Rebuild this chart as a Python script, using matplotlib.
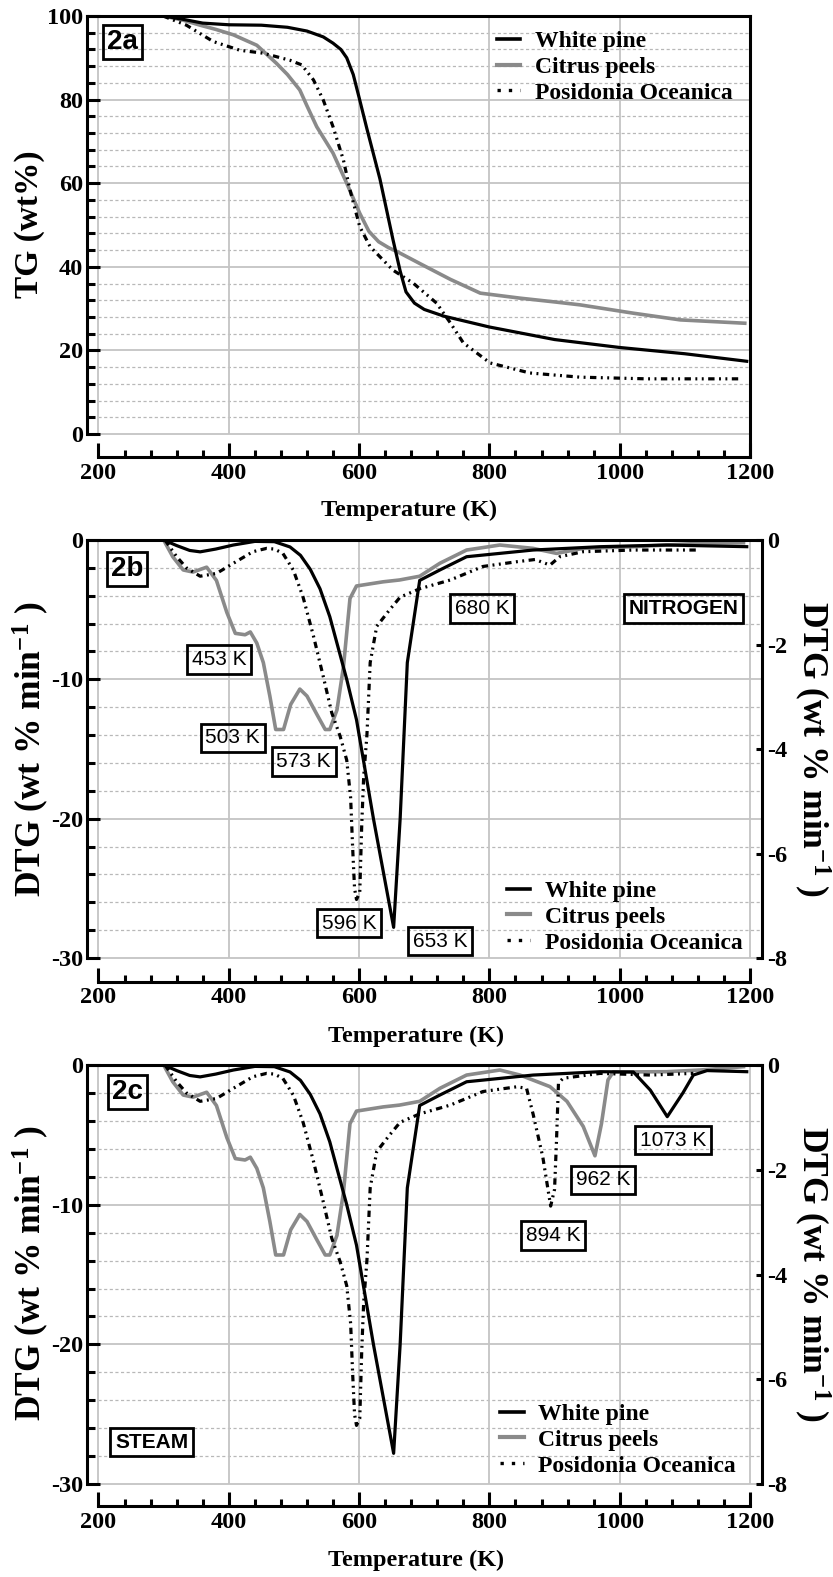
import matplotlib
matplotlib.use("Agg")
import matplotlib.pyplot as plt
from matplotlib.ticker import FixedLocator
from matplotlib.lines import Line2D

plt.rcParams["font.family"] = ["Liberation Serif", "DejaVu Serif"]
plt.rcParams["font.weight"] = "bold"
plt.rcParams["axes.unicode_minus"] = False
plt.rcParams["mathtext.fontset"] = "custom"
plt.rcParams["mathtext.rm"] = "Liberation Serif:bold"
plt.rcParams["mathtext.bf"] = "Liberation Serif:bold"
plt.rcParams["mathtext.default"] = "bf"

# ---------------- data ----------------
series_names = ["White pine", "Citrus peels", "Posidonia Oceanica"]

# TG curves: temperature (K) and residual mass (wt%)
tg_pine_T = [300, 330, 360, 400, 450, 490, 520, 545, 560, 572, 581, 591, 600, 612, 632, 652,
             663, 672, 685, 700, 730, 800, 900, 1000, 1100, 1195]
tg_pine_W = [100, 99.2, 98.3, 97.9, 97.8, 97.3, 96.4, 95.0, 93.5, 92.0, 90.0, 86.0, 80.5, 73.0,
             61.0, 46.5, 39.0, 34.0, 31.3, 29.8, 28.2, 25.6, 22.6, 20.7, 19.2, 17.4]
tg_citrus_T = [300, 330, 356, 380, 407, 443, 473, 490, 509, 520, 535, 560, 581, 601, 615, 630,
               645, 660, 693, 740, 786, 847, 900, 939, 1021, 1093, 1192]
tg_citrus_W = [100, 99.0, 97.8, 96.8, 95.5, 93.0, 88.7, 86.0, 82.3, 78.5, 73.5, 67.2, 60.0, 52.8,
               48.5, 46.0, 44.6, 43.5, 40.8, 37.0, 33.7, 32.5, 31.6, 30.9, 28.9, 27.3, 26.5]
tg_posid_T = [299, 335, 376, 417, 453, 494, 512, 530, 545, 560, 576, 586, 601, 617, 632, 652,
              683, 719, 740, 760, 801, 862, 939, 1041, 1182]
tg_posid_W = [100, 97.8, 93.9, 91.8, 91.1, 89.4, 88.3, 84.7, 79.9, 73.5, 65.5, 58.4, 49.6, 44.8,
              42.4, 39.2, 36.1, 31.3, 26.6, 21.8, 17.0, 14.6, 13.6, 13.2, 13.2]

# DTG curves under nitrogen: temperature (K) and rate (wt% / min)
n2_pine_T = [300, 320, 340, 356, 380, 407, 440, 470, 494, 510, 525, 540, 555, 581, 596, 622,
             653, 663, 674, 693, 724, 765, 816, 867, 919, 970, 1072, 1195]
n2_pine_D = [0, -0.4, -0.75, -0.85, -0.65, -0.36, -0.1, -0.12, -0.5, -1.1, -2.1, -3.5, -5.5,
             -10.0, -12.9, -20.0, -27.8, -20.0, -8.8, -2.9, -2.15, -1.2, -0.96, -0.72, -0.6,
             -0.48, -0.36, -0.48]
n2_citrus_T = [300, 314, 330, 345, 366, 381, 397, 410, 425, 433, 443, 453, 463, 472, 484, 495,
               509, 520, 535, 548, 555, 566, 576, 586, 596, 637, 662, 693, 724, 765, 816, 867,
               903, 944, 1021, 1123, 1190]
n2_citrus_D = [0, -1.2, -2.15, -2.3, -1.95, -2.9, -5.2, -6.7, -6.8, -6.6, -7.4, -8.8, -11.2,
               -13.6, -13.6, -11.8, -10.7, -11.2, -12.5, -13.6, -13.6, -12.2, -9.1, -4.2, -3.3,
               -3.0, -2.87, -2.6, -1.67, -0.72, -0.36, -0.6, -0.96, -0.6, -0.48, -0.24, -0.2]
n2_posid_T = [302, 320, 335, 356, 381, 407, 437, 458, 470, 483, 499, 514, 530, 545, 558, 571,
              581, 587, 590, 593, 596, 601, 604, 607, 612, 617, 627, 647, 663, 678, 693, 740,
              790, 842, 870, 893, 908, 944, 1021, 1123]
n2_posid_D = [0, -1.2, -2.0, -2.6, -2.4, -1.67, -0.84, -0.6, -0.65, -0.96, -2.15, -4.1, -6.9,
              -9.8, -12.4, -14.1, -15.8, -18.5, -22.0, -25.0, -25.8, -25.3, -20.5, -17.0, -14.0,
              -8.8, -6.2, -5.0, -4.1, -3.8, -3.5, -2.87, -1.9, -1.56, -1.4, -1.8, -1.2, -0.84,
              -0.72, -0.72]

# DTG curves under steam: the high-temperature parts that differ from nitrogen
st_pine_tail_T = [1021, 1047, 1073, 1097, 1113, 1134, 1195]
st_pine_tail_D = [-0.5, -1.8, -3.7, -2.0, -0.72, -0.4, -0.48]
st_citrus_tail_T = [847, 893, 919, 944, 962, 972, 982, 990, 1072, 1123, 1190]
st_citrus_tail_D = [-0.72, -1.55, -2.6, -4.4, -6.5, -4.2, -1.07, -0.5, -0.48, -0.36, -0.12]
st_posid_tail_T = [857, 867, 882, 894, 900, 903, 906, 913, 970, 1047, 1113]
st_posid_tail_D = [-1.67, -3.5, -6.6, -10.1, -8.9, -5.4, -1.3, -0.95, -0.6, -0.72, -0.6]

# peak annotations: (text, T, DTG)
n2_peaks = [("453 K", 385, -8.58), ("503 K", 406, -14.2), ("573 K", 515, -15.9),
            ("596 K", 585, -27.5), ("653 K", 724, -28.8), ("680 K", 789, -4.92)]
st_peaks = [("1073 K", 1082, -5.37), ("962 K", 974, -8.23), ("894 K", 898, -12.2)]


def joined(T_base, D_base, T_tail, D_tail):
    """Nitrogen curve below the first tail temperature followed by the steam tail."""
    cut = T_tail[0]
    T = [t for t in T_base if t < cut] + T_tail
    D = [d for t, d in zip(T_base, D_base) if t < cut] + D_tail
    return T, D


st_pine_T, st_pine_D = joined(n2_pine_T, n2_pine_D, st_pine_tail_T, st_pine_tail_D)
st_citrus_T, st_citrus_D = joined(n2_citrus_T, n2_citrus_D, st_citrus_tail_T, st_citrus_tail_D)
st_posid_T, st_posid_D = joined(n2_posid_T, n2_posid_D, st_posid_tail_T, st_posid_tail_D)

# ---------------- styling ----------------
W, H = 833, 1577
GRAY = "#8a8a8a"
LW = 2.3
POSID_DASH = [2.0, 1.4, 0.6, 1.4, 0.6, 1.4]
SERIF = dict(family="Liberation Serif", weight="bold")
SANS = "Liberation Sans"
TICK_FS = 17.5
XLAB_FS = 17.5
TG_LAB_FS = 24
DTG_LAB_FS = 25.5


def rect(l, r, t, b):
    return [l / W, 1 - b / H, (r - l) / W, (b - t) / H]


fig = plt.figure(figsize=(W / 100, H / 100), dpi=100)


def base_axes(r, xlim, ylim, ymaj, ymin_step, ybounds, ylab, ylab_fs, ylab_x, xlab_x, xlab_y):
    ax = fig.add_axes(r)
    ax.set_xlim(*xlim)
    ax.set_ylim(*ylim)
    # grid limited to the data frame
    y_major = list(range(int(ybounds[0]), int(ybounds[1]) + 1, ymaj))
    k = ybounds[0]
    y_minor = []
    while k <= ybounds[1] + 1e-9:
        if all(abs(k - m) > 1e-9 for m in y_major):
            y_minor.append(k)
        k += ymin_step
    gx_right = xlim[1]
    ax.hlines(y_minor, 200, gx_right, colors="#b8b8b8", lw=0.9, linestyles=(0, (2.5, 2)), zorder=0.5)
    ax.hlines(y_major, 200, gx_right, colors="#c4c4c4", lw=1.3, zorder=0.6)
    ax.vlines(range(200, 1201, 200), ybounds[0], ybounds[1], colors="#c4c4c4", lw=1.3, zorder=0.6)

    for s in ax.spines.values():
        s.set_linewidth(2.2)
    ax.spines["left"].set_bounds(*ybounds)
    ax.spines["bottom"].set_bounds(200, 1200)

    ax.xaxis.set_major_locator(FixedLocator(range(200, 1201, 200)))
    ax.xaxis.set_minor_locator(FixedLocator([t for t in range(200, 1201, 40) if t % 200]))
    ax.yaxis.set_major_locator(FixedLocator(y_major))
    ax.yaxis.set_minor_locator(FixedLocator(y_minor))
    ax.tick_params(axis="x", which="major", direction="in", length=10, width=2.2, pad=4,
                   labelsize=TICK_FS, top=False)
    ax.tick_params(axis="x", which="minor", direction="in", length=5, width=2.2, top=False)
    ax.tick_params(axis="y", which="major", direction="in", length=9.5, width=2.2, pad=3,
                   labelsize=TICK_FS, right=False)
    ax.tick_params(axis="y", which="minor", direction="in", length=5.5, width=2.2, right=False)
    for lab in ax.get_xticklabels() + ax.get_yticklabels():
        lab.set_fontweight("bold")

    ax.set_xlabel("Temperature (K)", fontsize=XLAB_FS, fontweight="bold", va="center", ha="center")
    ax.xaxis.set_label_coords(xlab_x, xlab_y)
    ax.set_ylabel(ylab, fontsize=ylab_fs, fontweight="bold", va="center", ha="center")
    ax.yaxis.set_label_coords(ylab_x, 0.527)
    return ax


def legend(ax, x, y):
    handles = [Line2D([], [], color="black", lw=2.6),
               Line2D([], [], color=GRAY, lw=3.0),
               Line2D([], [], color="black", lw=2.4, dashes=[1.0, 2.4])]
    ax.legend(handles, series_names, loc="center left", bbox_to_anchor=(x, y), frameon=False,
              handlelength=1.0, handletextpad=0.6, labelspacing=0.18, borderpad=0,
              borderaxespad=0, prop=dict(SERIF, size=17))


def tag(ax, x, y, text, size=20, weight="bold", pad=0.15):
    ax.text(x, y, text, family=SANS, fontsize=size, fontweight=weight, ha="center", va="center",
            zorder=5, bbox=dict(boxstyle=f"square,pad={pad}", fc="none", ec="black", lw=2.0))


def draw_dtg(ax, pine, citrus, posid):
    ax.plot(*pine, color="black", lw=LW, zorder=3)
    ax.plot(*citrus, color=GRAY, lw=2.6, zorder=2)
    ax.plot(*posid, color="black", lw=LW, dashes=POSID_DASH, zorder=3)


DTG_LABEL = "DTG (wt % min$^{-1}$ )"


def right_axis(ax, ylim_left):
    ax.spines["right"].set_visible(False)
    ax2 = ax.twinx()
    ax2.set_ylim(ylim_left * 8 / 30, 0)
    for name, s in ax2.spines.items():
        s.set_visible(name == "right")
    ax2.spines["right"].set_linewidth(2.2)
    ax2.spines["right"].set_bounds(-8, 0)
    ax2.yaxis.set_major_locator(FixedLocator([-8, -6, -4, -2, 0]))
    ax2.tick_params(axis="y", direction="in", length=4.5, width=2.2, pad=3.5, labelsize=TICK_FS)
    for lab in ax2.get_yticklabels():
        lab.set_fontweight("bold")
    ax2.set_ylabel(DTG_LABEL, fontsize=DTG_LAB_FS, fontweight="bold", rotation=-90, va="center",
                   ha="center")
    ax2.yaxis.set_label_coords(1.075, 0.527)
    return ax2


# ---------------- panel 2a: TG ----------------
ax_a = base_axes(rect(87, 750, 16, 457), (182.35, 1200), (-5.50, 100), 20, 4, (0, 100),
                 "TG (wt%)", TG_LAB_FS, -0.087, 0.486, -0.120)
ax_a.plot(tg_pine_T, tg_pine_W, color="black", lw=LW, zorder=3)
ax_a.plot(tg_citrus_T, tg_citrus_W, color=GRAY, lw=2.6, zorder=2)
ax_a.plot(tg_posid_T, tg_posid_W, color="black", lw=LW, dashes=POSID_DASH, zorder=3)
legend(ax_a, 0.618, 0.884)
tag(ax_a, 236.8, 93.8, "2a")

# ---------------- panel 2b: DTG nitrogen ----------------
ax_b = base_axes(rect(87, 762, 540, 981.7), (182.35, 1218.4), (-31.70, 0), 10, 2, (-30, 0),
                 DTG_LABEL, DTG_LAB_FS, -0.083, 0.487, -0.123)
draw_dtg(ax_b, (n2_pine_T, n2_pine_D), (n2_citrus_T, n2_citrus_D), (n2_posid_T, n2_posid_D))
right_axis(ax_b, -31.70)
legend(ax_b, 0.622, 0.1465)
tag(ax_b, 243.7, -2.08, "2b")
for text, t, d in n2_peaks:
    tag(ax_b, t, d, text, size=15, weight="normal", pad=0.22)
tag(ax_b, 1097.9, -4.92, "NITROGEN", size=15, weight="bold", pad=0.22)

# ---------------- panel 2c: DTG steam ----------------
ax_c = base_axes(rect(87, 762, 1065, 1506), (182.35, 1218.4), (-31.57, 0), 10, 2, (-30, 0),
                 DTG_LABEL, DTG_LAB_FS, -0.083, 0.487, -0.1224)
draw_dtg(ax_c, (st_pine_T, st_pine_D), (st_citrus_T, st_citrus_D), (st_posid_T, st_posid_D))
right_axis(ax_c, -31.57)
legend(ax_c, 0.612, 0.1497)
tag(ax_c, 244.5, -1.93, "2c")
for text, t, d in st_peaks:
    tag(ax_c, t, d, text, size=15, weight="normal", pad=0.22)
tag(ax_c, 281.4, -27.0, "STEAM", size=15, weight="bold", pad=0.22)

fig.savefig("out.png", dpi=100)
